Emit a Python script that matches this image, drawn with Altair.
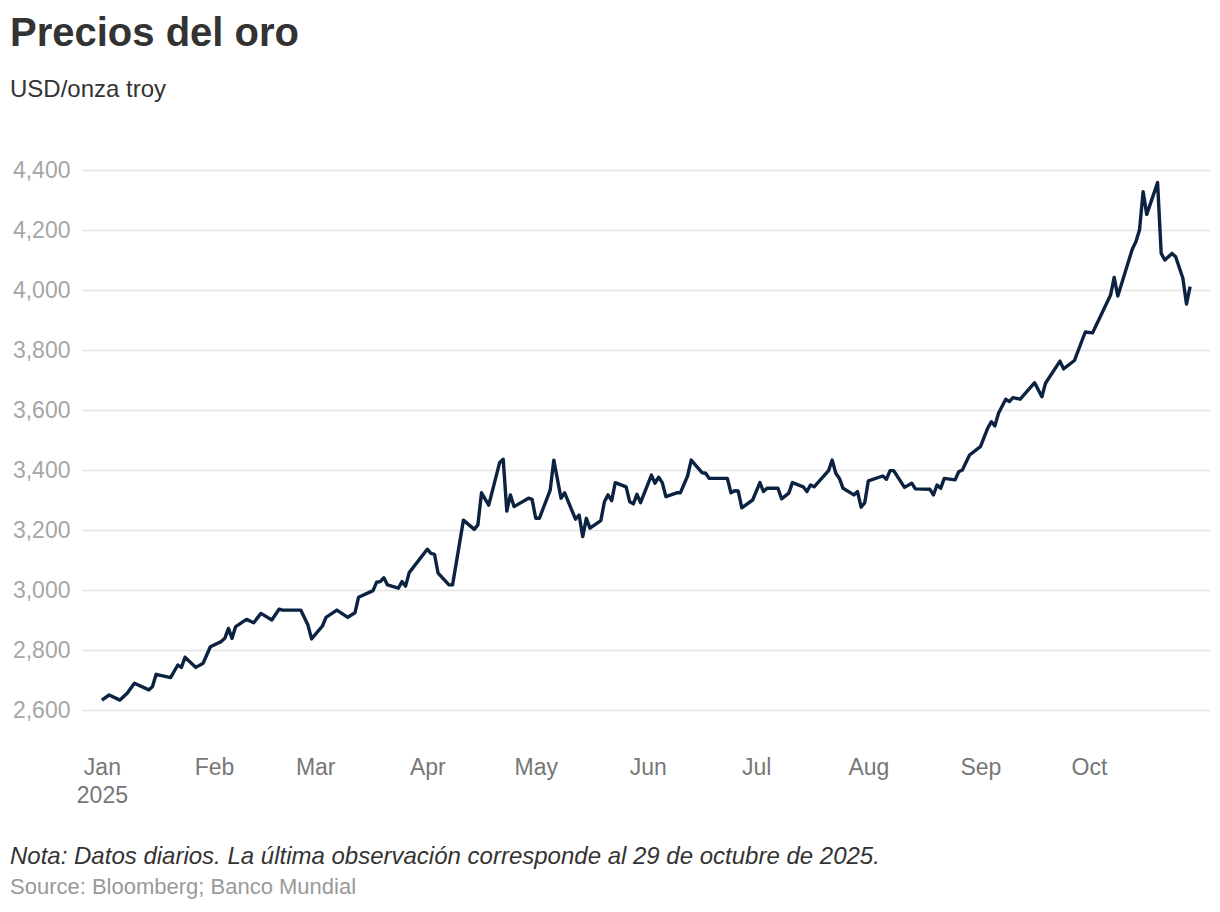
import altair as alt
import pandas as pd

# Gold price (USD / troy ounce)
dates = [
    "2025-01-01", "2025-01-03", "2025-01-06", "2025-01-08", "2025-01-10", "2025-01-14",
    "2025-01-15", "2025-01-16", "2025-01-20", "2025-01-22", "2025-01-23", "2025-01-24",
    "2025-01-27", "2025-01-29", "2025-01-31", "2025-02-03", "2025-02-04", "2025-02-05",
    "2025-02-06", "2025-02-07", "2025-02-10", "2025-02-12", "2025-02-14", "2025-02-17",
    "2025-02-19", "2025-02-20", "2025-02-25", "2025-02-27", "2025-02-28", "2025-03-03",
    "2025-03-04", "2025-03-07", "2025-03-10", "2025-03-12", "2025-03-13", "2025-03-17",
    "2025-03-18", "2025-03-19", "2025-03-20", "2025-03-21", "2025-03-24", "2025-03-25",
    "2025-03-26", "2025-03-27", "2025-04-01", "2025-04-02", "2025-04-03", "2025-04-04",
    "2025-04-07", "2025-04-08", "2025-04-11", "2025-04-14", "2025-04-15", "2025-04-16",
    "2025-04-18", "2025-04-21", "2025-04-22", "2025-04-23", "2025-04-24", "2025-04-25",
    "2025-04-29", "2025-04-30", "2025-05-01", "2025-05-02", "2025-05-05", "2025-05-06",
    "2025-05-08", "2025-05-09", "2025-05-12", "2025-05-13", "2025-05-14", "2025-05-15",
    "2025-05-16", "2025-05-19", "2025-05-20", "2025-05-21", "2025-05-22", "2025-05-23",
    "2025-05-26", "2025-05-27", "2025-05-28", "2025-05-29", "2025-05-30", "2025-06-02",
    "2025-06-03", "2025-06-04", "2025-06-05", "2025-06-06", "2025-06-09", "2025-06-10",
    "2025-06-12", "2025-06-13", "2025-06-16", "2025-06-17", "2025-06-18", "2025-06-23",
    "2025-06-24", "2025-06-25", "2025-06-26", "2025-06-27", "2025-06-30", "2025-07-02",
    "2025-07-03", "2025-07-04", "2025-07-07", "2025-07-08", "2025-07-10", "2025-07-11",
    "2025-07-14", "2025-07-15", "2025-07-16", "2025-07-17", "2025-07-21", "2025-07-22",
    "2025-07-23", "2025-07-24", "2025-07-25", "2025-07-28", "2025-07-29", "2025-07-30",
    "2025-07-31", "2025-08-01", "2025-08-05", "2025-08-06", "2025-08-07", "2025-08-08",
    "2025-08-11", "2025-08-13", "2025-08-14", "2025-08-18", "2025-08-19", "2025-08-20",
    "2025-08-21", "2025-08-22", "2025-08-25", "2025-08-26", "2025-08-27", "2025-08-29",
    "2025-09-01", "2025-09-03", "2025-09-04", "2025-09-05", "2025-09-06", "2025-09-08",
    "2025-09-09", "2025-09-10", "2025-09-12", "2025-09-16", "2025-09-18", "2025-09-19",
    "2025-09-23", "2025-09-24", "2025-09-27", "2025-09-30", "2025-10-02", "2025-10-07",
    "2025-10-08", "2025-10-09", "2025-10-13", "2025-10-14", "2025-10-15", "2025-10-16",
    "2025-10-17", "2025-10-20", "2025-10-21", "2025-10-22", "2025-10-24", "2025-10-25",
    "2025-10-27", "2025-10-28", "2025-10-29",
]
prices = [
    2633, 2650, 2633, 2656, 2689, 2667,
    2678, 2719, 2708, 2750, 2742, 2776,
    2742, 2756, 2811, 2828, 2839, 2872,
    2839, 2878, 2902, 2891, 2922, 2900,
    2936, 2933, 2933, 2883, 2837, 2880,
    2909, 2933, 2909, 2924, 2976, 2998,
    3026, 3028, 3041, 3017, 3006, 3028,
    3013, 3058, 3136, 3122, 3119, 3056,
    3017, 3017, 3233, 3202, 3217, 3324,
    3283, 3424, 3436, 3263, 3317, 3278,
    3306, 3302, 3239, 3239, 3333, 3433,
    3306, 3324, 3236, 3250, 3178, 3239,
    3206, 3231, 3294, 3317, 3298, 3358,
    3344, 3294, 3287, 3319, 3291, 3383,
    3356, 3376, 3358, 3311, 3324, 3324,
    3380, 3433, 3391, 3389, 3372, 3372,
    3324, 3331, 3330, 3274, 3300, 3358,
    3328, 3339, 3339, 3304, 3323, 3358,
    3344, 3328, 3350, 3344, 3398, 3433,
    3389, 3372, 3339, 3317, 3328, 3276,
    3291, 3364, 3380, 3369, 3398, 3398,
    3342, 3356, 3337, 3336, 3317, 3350,
    3339, 3372, 3367, 3394, 3400, 3450,
    3478, 3539, 3561, 3547, 3589, 3636,
    3628, 3641, 3636, 3691, 3644, 3689,
    3763, 3737, 3765, 3860, 3857, 3983,
    4042, 3980, 4136, 4161, 4200, 4328,
    4252, 4358, 4122, 4100, 4122, 4111,
    4039, 3953, 4011,
]

y_ticks = [2600, 2800, 3000, 3200, 3400, 3600, 3800, 4000, 4200, 4400]
title_text = "Precios del oro"
subtitle_text = "USD/onza troy"
note_text = "Nota: Datos diarios. La última observación corresponde al 29 de octubre de 2025."
source_text = "Source: Bloomberg; Banco Mundial"

df = pd.DataFrame({"date": dates, "price": prices})

FONT = "Liberation Sans"

month_ticks = [alt.DateTime(year=2025, month=m, date=1, utc=True) for m in range(1, 11)]

line = alt.Chart(df).mark_line(color="#0b2341", strokeWidth=3.4, strokeJoin="round").encode(
    x=alt.X(
        "date:T",
        scale=alt.Scale(
            type="utc",
            domain=[
                alt.DateTime(year=2024, month=12, date=26, hours=12, utc=True),
                alt.DateTime(year=2025, month=11, date=3, hours=12, utc=True),
            ],
        ),
        axis=alt.Axis(
            title=None,
            values=month_ticks,
            labelExpr="utcmonth(datum.value) == 0 ? ['Jan', '2025'] : utcFormat(datum.value, '%b')",
            grid=False,
            domain=False,
            ticks=False,
            labelPadding=16,
            labelFontSize=23,
            labelColor="#777777",
            labelFont=FONT,
            labelLineHeight=28,
            labelAlign="center",
            labelFlush=False,
            labelOverlap=False,
        ),
    ),
    y=alt.Y(
        "price:Q",
        scale=alt.Scale(domain=[2500, 4400], nice=False, zero=False),
        axis=alt.Axis(
            title=None,
            values=y_ticks,
            format=",.0f",
            grid=True,
            gridColor="#e3e3e3",
            gridWidth=1.5,
            domain=False,
            ticks=False,
            labelPadding=12,
            labelFontSize=23,
            labelColor="#a6a6a6",
            labelFont=FONT,
        ),
    ),
)

note = alt.Chart(pd.DataFrame({"t": [note_text]})).mark_text(
    align="left", baseline="alphabetic", font=FONT, fontSize=24, fontStyle="italic", color="#333333"
).encode(text="t:N", x=alt.value(-72), y=alt.value(694))

source = alt.Chart(pd.DataFrame({"t": [source_text]})).mark_text(
    align="left", baseline="alphabetic", font=FONT, fontSize=22, color="#999999"
).encode(text="t:N", x=alt.value(-72), y=alt.value(724))

chart = alt.layer(line, note, source).properties(
    width=1128,
    height=570,
    autosize=alt.AutoSizeParams(type="none"),
    padding={"left": 74, "top": 162, "right": 2, "bottom": 168},
    title=alt.TitleParams(
        text=title_text,
        subtitle=subtitle_text,
        anchor="start",
        frame="group",
        dx=-72,
        offset=57,
        font=FONT,
        fontSize=40,
        fontWeight="bold",
        color="#333333",
        subtitleFont=FONT,
        subtitleFontSize=24,
        subtitleColor="#333333",
        subtitlePadding=24,
    ),
).configure_view(stroke=None)

chart.save("out.html", embed_options={"renderer": "svg", "actions": False})
